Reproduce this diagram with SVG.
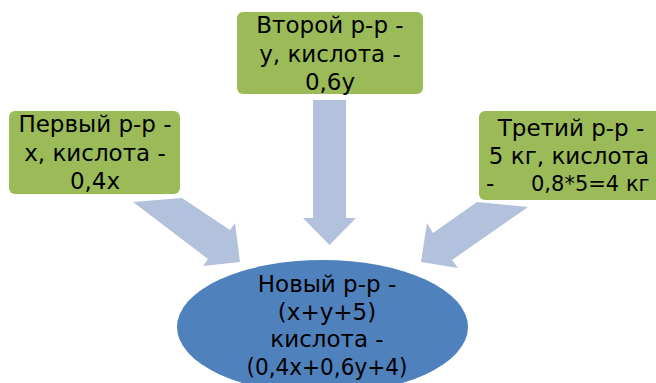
<svg xmlns="http://www.w3.org/2000/svg" width="656" height="383" viewBox="0 0 656 383">
<style>
.box{fill:#9BBB59;}
.arr{fill:#B3C2DC;}
.ell{fill:#4F81BD;}
text{font-family:"DejaVu Sans","Liberation Sans",sans-serif;font-size:23px;fill:#000;text-anchor:middle;}
</style>
<rect width="656" height="383" fill="#FFFFFF"/>
<g id="connectors">
<polygon class="arr" points="313,100 346,100 346,218 356,218 329.5,245 303,218 313,218"/>
<polygon class="arr" points="133,202 182,198 230,230 235,223 240,262 203,266 208,259"/>
<polygon class="arr" points="477,202 528,207 452,260 458,268 421,262 427,223 433,233"/>
</g>
<g id="node-first">
<rect class="box" x="9" y="111" width="171" height="83" rx="6"/>
<text x="95" y="131.5">Первый р-р -</text>
<text x="95" y="160.5">х, кислота -</text>
<text x="95" y="189">0,4х</text>
</g>
<g id="node-second">
<rect class="box" x="237" y="12" width="186" height="82" rx="6"/>
<text x="330" y="32.5">Второй р-р -</text>
<text x="330" y="61.5">у, кислота -</text>
<text x="330" y="89.5">0,6у</text>
</g>
<g id="node-third">
<rect class="box" x="479" y="111" width="185" height="89" rx="6"/>
<text x="571" y="136">Третий р-р -</text>
<text x="569" y="164">5 кг, кислота</text>
<text x="486" y="191" style="text-anchor:start">-</text>
<text x="531" y="191" style="text-anchor:start;font-size:21px">0,8*5=4 кг</text>
</g>
<g id="node-new">
<ellipse class="ell" cx="322.5" cy="327" rx="145.5" ry="67"/>
<text x="327" y="291.5">Новый р-р -</text>
<text x="327" y="319.5">(х+у+5)</text>
<text x="327" y="347">кислота -</text>
<text x="327" y="375" textLength="161" lengthAdjust="spacingAndGlyphs">(0,4х+0,6у+4)</text>
</g>
</svg>
